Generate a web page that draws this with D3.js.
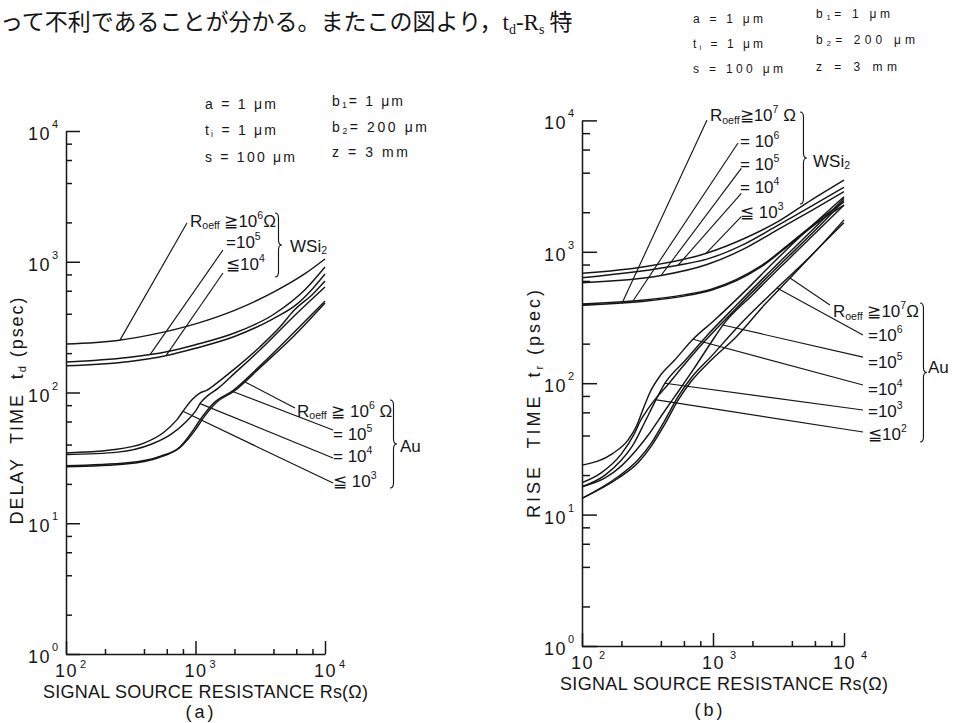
<!DOCTYPE html>
<html>
<head>
<meta charset="utf-8">
<script src="https://cdn.jsdelivr.net/npm/d3@7"></script>
<style>
  body { margin: 0; background: #fff; }
  text { font-family: "Liberation Sans", Arial, sans-serif; fill: #161616; white-space: pre; }
  .curve { fill: none; stroke: #161616; stroke-width: 1.45; }
  .leader { fill: none; stroke: #161616; stroke-width: 1.15; }
  .axis path, .axis line { stroke: #161616; stroke-width: 1.5; }
</style>
</head>
<body>
<div id="vis"></div>
<script>
var width = 953,
    height = 723;

// tick values (Rs in ohm, times in psec)
var rsMajor = [1e2, 1e3, 1e4];
var rsMinor = [200, 400, 600, 800, 2000, 4000, 6000, 8000];
var tMajor = [1, 10, 100, 1000, 10000];
var tMinor = [2, 4, 6, 8, 20, 40, 60, 80, 200, 400, 600, 800, 2000, 4000, 6000, 8000];
var decadeExp = {1: "0", 10: "1", 100: "2", 1000: "3", 10000: "4"};

// (a) delay time td vs Rs
var wsiDelay1e6 = [[100,235],[250,250],[500,282],[1000,335],[2000,425],[4000,585],[7000,810],[10000,1050]];
var wsiDelay1e5 = [[100,171],[300,185],[600,205],[1000,232],[2000,285],[4000,395],[7000,610],[10000,912]];
var wsiDelay1e4 = [[100,160],[300,172],[600,192],[1000,218],[2000,268],[4000,368],[6000,470],[8000,620],[10000,805]];
var auDelay1e6 = [[100,27],[300,28.5],[530,32],[760,38],[1000,52],[1150,64],[1450,84],[2000,103],[3150,155],[5700,268],[10000,483]];
var auDelay1e5 = [[100,27.5],[300,29],[530,32.5],[760,38.5],[960,51.5],[1080,61.5],[1370,82.5],[1960,104],[3150,160],[5700,285],[10000,500]];
var auDelay1e4 = [[100,33.5],[250,35],[450,40],[650,48],[850,60],[1000,72],[1100,84],[1250,95],[1500,108],[2000,140],[3200,215],[5700,380],[10000,641]];
var auDelay1e3 = [[100,34.5],[220,36.3],[400,41],[560,49],[720,62],[850,78],[960,90],[1080,99],[1220,104],[1460,118],[1960,149],[3150,224],[4500,318],[5700,420],[8100,570],[10000,713]];

// (b) rise time tr vs Rs
var wsiRise1e7 = [[100,392],[300,420],[600,460],[970,510],[1500,600],[2340,770],[3960,1160],[6700,1750],[10000,2270]];
var wsiRise1e6 = [[100,401],[300,430],[600,470],[970,520],[1500,615],[2340,785],[3960,1180],[6700,1800],[10000,2400]];
var wsiRise1e5 = [[100,582],[401,660],[900,800],[1750,1060],[3100,1470],[5600,2050],[10000,2867]];
var wsiRise1e4 = [[100,635],[541,790],[900,880],[1750,1150],[3100,1580],[5600,2220],[10000,3097]];
var wsiRise1e3 = [[100,686],[300,770],[890,974],[1750,1268],[3130,1695],[5620,2478],[10000,3516]];
var auRise1e7 = [[100,13.3],[190,19],[270,25],[340,33.5],[430,49],[540,74],[680,103],[970,150],[1500,225],[2500,400],[3870,631],[6000,1000],[10000,1665]];
var auRise1e6 = [[100,13.3],[188,19.4],[267,26],[338,35],[428,52],[541,79],[683,110],[970,160],[1500,260],[3080,530],[6000,1000],[10000,1750]];
var auRise1e5 = [[100,16.3],[150,19],[200,23.5],[260,31],[330,42],[430,62],[550,88],[700,125],[970,205],[1190,277],[2000,470],[4000,930],[10000,2270]];
var auRise1e4 = [[100,23.8],[170,29],[225,37],[260,47],[290,62],[330,85],[390,112],[510,150],[700,215],[1000,295],[1820,520],[2870,822],[4620,1300],[10000,2625]];
var auRise1e3 = [[100,16.3],[150,20],[200,26],[250,35],[300,50],[360,72],[430,100],[610,148],[870,222],[1500,390],[3000,780],[6000,1530],[10000,2550]];
var auRise1e2 = [[100,17.5],[140,20.8],[200,29],[250,41],[280,52],[320,64],[360,75],[430,92],[610,140],[870,210],[1500,370],[3000,740],[6000,1450],[10000,2460]];

// annotation texts, anchored in data units [Rs, t]
var delayLabels = [
  {at: [907, 1845], parts: [["R"], ["oeff", "sub"], [" ≧10"], ["6", "sup"], ["Ω"]]},
  {at: [1720, 1274], parts: [["=10"], ["5", "sup"]]},
  {at: [1720, 865], parts: [["≦10"], ["4", "sup"]]},
  {at: [5370, 1188], parts: [["WSi"], ["2", "sub"]]},
  {at: [6080, 65], parts: [["R"], ["oeff", "sub"], [" ≧ 10"], ["6", "sup"], [" Ω"]]},
  {at: [11530, 43.3], parts: [["= 10"], ["5", "sup"]]},
  {at: [11530, 29.4], parts: [["= 10"], ["4", "sup"]]},
  {at: [11530, 18.9], parts: [["≦ 10"], ["3", "sup"]]},
  {at: [37900, 35.1], parts: [["Au"]]}
];
var delayLeaders = [
  {from: [859, 1978], key: "w6", rs: 261},
  {from: [1630, 1230], key: "w5", rs: 446},
  {from: [1630, 820], key: "w4", rs: 592},
  {from: [5860, 76], key: "a6", rs: 2410},
  {from: [11530, 51.7], key: "a5", rs: 1914},
  {from: [11530, 31.6], key: "a4", rs: 1084},
  {from: [11530, 20.3], key: "a3", rs: 800}
];
var delayBraces = [{rs: 4110, top: 2360, bottom: 764}, {rs: 31760, top: 87.7, bottom: 18.6}];

var riseLabels = [
  {at: [948, 9890], parts: [["R"], ["oeff", "sub"], ["≧10"], ["7", "sup"], [" Ω"]]},
  {at: [1607, 6280], parts: [["= 10"], ["6", "sup"]]},
  {at: [1607, 4190], parts: [["= 10"], ["5", "sup"]]},
  {at: [1607, 2800], parts: [["= 10"], ["4", "sup"]]},
  {at: [1607, 1807], parts: [["≦ 10"], ["3", "sup"]]},
  {at: [5800, 4420], parts: [["WSi"], ["2", "sub"]]},
  {at: [8240, 319], parts: [["R"], ["oeff", "sub"], [" ≧10"], ["7", "sup"], ["Ω"]]},
  {at: [15240, 209], parts: [["=10"], ["6", "sup"]]},
  {at: [15240, 130.6], parts: [["=10"], ["5", "sup"]]},
  {at: [15240, 81.3], parts: [["=10"], ["4", "sup"]]},
  {at: [15240, 55.3], parts: [["=10"], ["3", "sup"]]},
  {at: [15240, 37], parts: [["≦10"], ["2", "sup"]]},
  {at: [43800, 119.6], parts: [["Au"]]}
];
var riseLeaders = [
  {from: [900, 10070], key: "w7", rs: 202},
  {from: [1552, 6730], key: "w6", rs: 245},
  {from: [1644, 4320], key: "w5", rs: 401},
  {from: [1644, 2786], key: "w4", rs: 541},
  {from: [1644, 1850], key: "w3", rs: 885},
  {from: [7810, 394], key: "a7", rs: 3870},
  {from: [13960, 233], key: "a6", rs: 3080},
  {from: [13960, 158], key: "a5", rs: 1190},
  {from: [13960, 96.9], key: "a4", rs: 703},
  {from: [13960, 62.5], key: "a3", rs: 430},
  {from: [13960, 42.5], key: "a2", rs: 360}
];
var riseBraces = [{rs: 4610, top: 11590, bottom: 2311}, {rs: 38000, top: 408, bottom: 35.7}];

var paramParts = [
  [["a = 1 μm"]],
  [["t"], ["i", "sub"], [" = 1 μm"]],
  [["s = 100 μm"]],
  [["b"], ["1", "sub"], ["= 1 μm"]],
  [["b"], ["2", "sub"], ["= 200 μm"]],
  [["z = 3 mm"]]
];

var svg = d3.select('#vis').append('svg')
    .attr("width", width)
    .attr("height", height);

svg.append("rect").attr("width", width).attr("height", height).attr("fill", "#fff");

// text with super/subscript pieces
function richText(g, x, y, parts, fs) {
  var t = g.append("text").attr("x", x).attr("y", y).attr("font-size", fs);
  var shift = 0;
  parts.forEach(function(p) {
    var mode = p[1] || "";
    var target = mode === "sup" ? -0.45 * fs : (mode === "sub" ? 0.15 * fs : 0);
    t.append("tspan")
      .attr("dy", (target - shift).toFixed(1))
      .attr("font-size", mode ? fs * 0.62 : fs)
      .text(p[0]);
    shift = target;
  });
  return t;
}

function bracePath(x, y0, y1, w) {
  var ym = (y0 + y1) / 2, r = 5, xm = x + w / 2;
  return "M" + x + "," + y0 + " Q" + xm + "," + y0 + " " + xm + "," + (y0 + r) +
    " L" + xm + "," + (ym - r) + " Q" + xm + "," + ym + " " + (x + w) + "," + ym +
    " Q" + xm + "," + ym + " " + xm + "," + (ym + r) +
    " L" + xm + "," + (y1 - r) + " Q" + xm + "," + y1 + " " + x + "," + y1;
}

// y of a drawn path at a given x (paths are monotone in x)
function yOnPath(node, px) {
  var lo = 0, hi = node.getTotalLength(), pt;
  for (var i = 0; i < 30; i++) {
    var mid = (lo + hi) / 2;
    pt = node.getPointAtLength(mid);
    if (pt.x < px) lo = mid; else hi = mid;
  }
  return pt.y;
}

function drawPanel(p) {
  var g = svg.append("g");
  var x = p.x, y = p.y;
  var x0 = x.range()[0], y0 = y.range()[0];

  var line = d3.line()
    .x(function(d) { return x(d[0]); })
    .y(function(d) { return y(d[1]); })
    .curve(d3.curveMonotoneX);

  var nodes = {};
  p.series.forEach(function(s) {
    nodes[s.key] = g.append("path").attr("class", "curve").attr("d", line(s.data)).node();
  });

  // axes, ticks inside
  g.append("g").attr("class", "axis").attr("transform", "translate(0," + y0 + ")")
    .call(d3.axisTop(x).tickValues(rsMajor).tickSize(p.xMaj).tickSizeOuter(0).tickFormat(""));
  g.append("g").attr("class", "axis").attr("transform", "translate(0," + y0 + ")")
    .call(d3.axisTop(x).tickValues(rsMinor).tickSize(p.xMin).tickFormat(""))
    .select(".domain").remove();
  g.append("g").attr("class", "axis").attr("transform", "translate(" + x0 + ",0)")
    .call(d3.axisRight(y).tickValues(tMajor).tickSize(p.yMaj).tickSizeOuter(0).tickFormat(""));
  g.append("g").attr("class", "axis").attr("transform", "translate(" + x0 + ",0)")
    .call(d3.axisRight(y).tickValues(tMinor).tickSize(p.yMin).tickFormat(""))
    .select(".domain").remove();

  // tick labels 10^n
  rsMajor.forEach(function(v) {
    g.append("text").attr("x", x(v) - 11).attr("y", y0 + 23)
      .attr("font-size", 18).attr("letter-spacing", 1.5).text("10");
    g.append("text").attr("x", x(v) + p.supDx).attr("y", y0 + p.supDy)
      .attr("font-size", 11).text(decadeExp[v]);
  });
  tMajor.forEach(function(v) {
    g.append("text").attr("x", x0 - 15).attr("y", y(v) + 9)
      .attr("text-anchor", "end").attr("font-size", 18).attr("letter-spacing", 1.5).text("10");
    g.append("text").attr("x", x0 - 14).attr("y", y(v) - 3)
      .attr("font-size", 11).text(decadeExp[v]);
  });

  // titles
  g.append("text").attr("x", p.xTitle[0]).attr("y", p.xTitle[1])
    .attr("font-size", 18).attr("textLength", p.xTitle[2]).attr("lengthAdjust", "spacing")
    .text("SIGNAL SOURCE RESISTANCE Rs(Ω)");
  g.append("text").attr("x", p.tag[0]).attr("y", p.tag[1])
    .attr("text-anchor", "middle").attr("font-size", 18).attr("letter-spacing", 3)
    .text(p.tag[2]);
  richText(g, 0, 0, p.yTitleParts, 18)
    .attr("text-anchor", "middle")
    .attr("textLength", p.yTitle[2]).attr("lengthAdjust", "spacing")
    .attr("transform", "translate(" + p.yTitle[0] + "," + p.yTitle[1] + ") rotate(-90)");

  // leaders from labels to curves
  p.leaders.forEach(function(l) {
    var px = x(l.rs);
    g.append("line").attr("class", "leader")
      .attr("x1", x(l.from[0])).attr("y1", y(l.from[1]))
      .attr("x2", px).attr("y2", yOnPath(nodes[l.key], px));
  });

  p.labels.forEach(function(l) {
    richText(g, x(l.at[0]), y(l.at[1]), l.parts, 17);
  });

  p.braces.forEach(function(b) {
    g.append("path").attr("class", "leader")
      .attr("d", bracePath(x(b.rs), y(b.top), y(b.bottom), 7));
  });

  // parameter block
  var pb = p.params;
  paramParts.forEach(function(parts, i) {
    var col = i < 3 ? 0 : 1, row = i % 3;
    richText(g, pb.x[col], pb.base[col][row], parts, pb.fs)
      .attr("textLength", pb.len[col][row]).attr("lengthAdjust", "spacing");
  });
}

drawPanel({
  x: d3.scaleLog().domain([1e2, 1e4]).range([66, 325]),
  y: d3.scaleLog().domain([1, 1e4]).range([654, 131]),
  xMaj: 13, xMin: 5, yMaj: 14, yMin: 6, supDx: 14, supDy: 14,
  series: [
    {key: "w6", data: wsiDelay1e6}, {key: "w5", data: wsiDelay1e5}, {key: "w4", data: wsiDelay1e4},
    {key: "a6", data: auDelay1e6}, {key: "a5", data: auDelay1e5},
    {key: "a4", data: auDelay1e4}, {key: "a3", data: auDelay1e3}
  ],
  labels: delayLabels, leaders: delayLeaders, braces: delayBraces,
  xTitle: [43, 698, 325], tag: [201, 718, "(a)"],
  yTitle: [23, 411, 227],
  yTitleParts: [["DELAY  TIME  t"], ["d", "sub"], [" (psec)"]],
  params: {fs: 14, x: [205, 332], base: [[109, 135, 162], [106, 132, 157]], len: [[71, 71, 90], [71, 95, 76]]}
});

drawPanel({
  x: d3.scaleLog().domain([1e2, 1e4]).range([582, 844]),
  y: d3.scaleLog().domain([1, 1e4]).range([646, 120.4]),
  xMaj: 13, xMin: 5, yMaj: 15, yMin: 8, supDx: 17, supDy: 13,
  series: [
    {key: "w7", data: wsiRise1e7}, {key: "w6", data: wsiRise1e6}, {key: "w5", data: wsiRise1e5},
    {key: "w4", data: wsiRise1e4}, {key: "w3", data: wsiRise1e3},
    {key: "a7", data: auRise1e7}, {key: "a6", data: auRise1e6}, {key: "a5", data: auRise1e5},
    {key: "a4", data: auRise1e4}, {key: "a3", data: auRise1e3}, {key: "a2", data: auRise1e2}
  ],
  labels: riseLabels, leaders: riseLeaders, braces: riseBraces,
  xTitle: [560, 690, 328], tag: [710, 716, "(b)"],
  yTitle: [540, 404, 228],
  yTitleParts: [["RISE  TIME  t"], ["r", "sub"], [" (psec)"]],
  params: {fs: 12, x: [693, 816], base: [[23, 48, 73], [18, 44, 71]], len: [[70, 70, 90], [74, 99, 81]]}
});

// running text of the page above the figure
var jp = svg.append("text").attr("x", 0).attr("y", 30).attr("font-size", 23)
  .style("font-family", '"Noto Sans CJK JP", sans-serif');
jp.append("tspan").text("って不利であることが分かる。またこの図より，");
jp.append("tspan").style("font-family", '"Liberation Serif", serif').text("t");
jp.append("tspan").style("font-family", '"Liberation Serif", serif').attr("font-size", 14).attr("dy", 4).text("d");
jp.append("tspan").style("font-family", '"Liberation Serif", serif').attr("dy", -4).text("-R");
jp.append("tspan").style("font-family", '"Liberation Serif", serif').attr("font-size", 14).attr("dy", 4).text("s");
jp.append("tspan").attr("dy", -4).text(" 特");
</script>
</body>
</html>
